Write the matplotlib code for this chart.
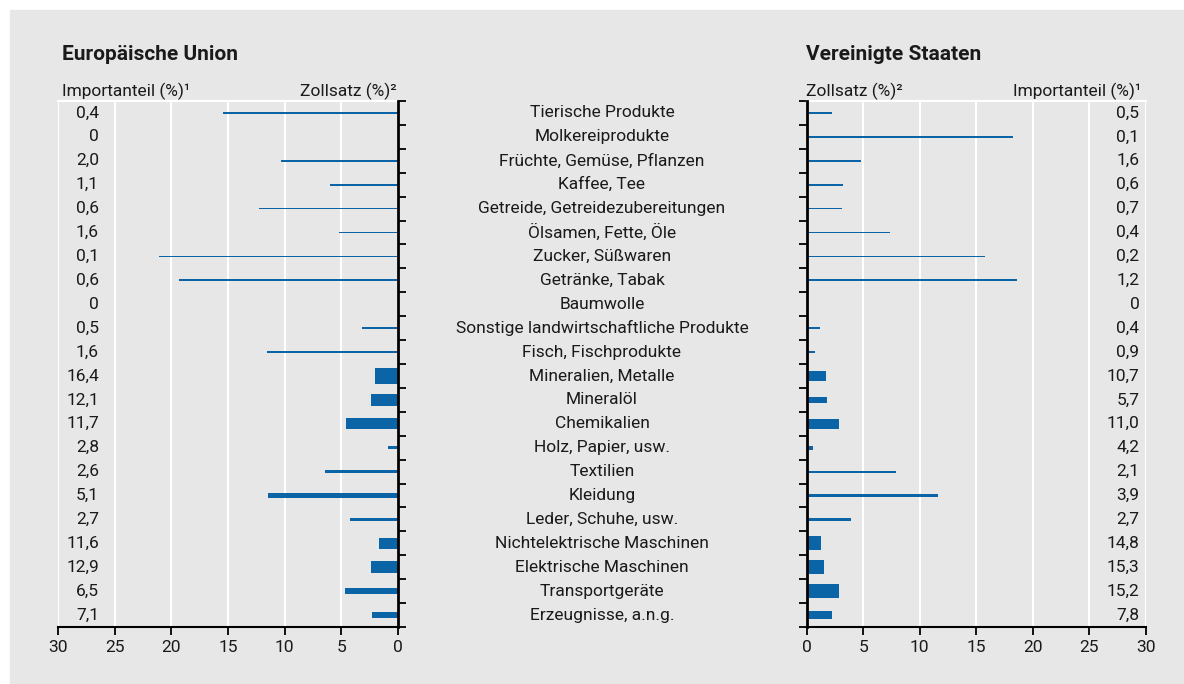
import matplotlib
matplotlib.use("Agg")
import matplotlib.pyplot as plt
import matplotlib.transforms as mtransforms
from matplotlib.patches import Rectangle
import numpy as np

categories = [
    "Tierische Produkte", "Molkereiprodukte", "Früchte, Gemüse, Pflanzen",
    "Kaffee, Tee", "Getreide, Getreidezubereitungen", "Ölsamen, Fette, Öle",
    "Zucker, Süßwaren", "Getränke, Tabak", "Baumwolle",
    "Sonstige landwirtschaftliche Produkte", "Fisch, Fischprodukte",
    "Mineralien, Metalle", "Mineralöl", "Chemikalien", "Holz, Papier, usw.",
    "Textilien", "Kleidung", "Leder, Schuhe, usw.",
    "Nichtelektrische Maschinen", "Elektrische Maschinen", "Transportgeräte",
    "Erzeugnisse, a.n.g.",
]
eu_share = [0.4, 0, 2.0, 1.1, 0.6, 1.6, 0.1, 0.6, 0, 0.5, 1.6, 16.4, 12.1,
            11.7, 2.8, 2.6, 5.1, 2.7, 11.6, 12.9, 6.5, 7.1]
eu_tariff = [15.4, 0, 10.3, 6.0, 12.3, 5.2, 21.1, 19.3, 0, 3.2, 11.6, 2.0,
             2.4, 4.6, 0.9, 6.4, 11.5, 4.2, 1.7, 2.4, 4.7, 2.3]
us_share = [0.5, 0.1, 1.6, 0.6, 0.7, 0.4, 0.2, 1.2, 0, 0.4, 0.9, 10.7, 5.7,
            11.0, 4.2, 2.1, 3.9, 2.7, 14.8, 15.3, 15.2, 7.8]
us_tariff = [2.2, 18.3, 4.8, 3.2, 3.1, 7.4, 15.8, 18.6, 0, 1.2, 0.7, 1.7,
             1.8, 2.9, 0.6, 7.9, 11.6, 3.9, 1.3, 1.5, 2.9, 2.2]
xticks = [0, 5, 10, 15, 20, 25, 30]

BLUE = "#0a64a5"
BG = "#e7e7e7"
TXT = "#1a1a1a"
FONT = "Roboto"
FS = 12.5

plt.rcParams['font.family'] = [FONT, 'DejaVu Sans']

W, H = 1184, 684
fig = plt.figure(figsize=(W / 100, H / 100), dpi=100)
fig.patch.set_facecolor("white")
fig.patches.append(Rectangle((10 / W, 0), 1 - 10 / W, 1 - 10 / H,
                             transform=fig.transFigure, color=BG, zorder=-10))


def fmt(v):
    return "0" if v == 0 else f"{v:.1f}".replace(".", ",")


def bar_h(v):
    if v <= 0:
        return 0
    return max(v * 0.039, 0.075)


n = len(categories)
ypos = np.arange(n)
bottom = 1 - 627 / H
height = 526 / H

ax1 = fig.add_axes([58 / W, bottom, 340 / W, height])
ax2 = fig.add_axes([806.7 / W, bottom, 339 / W, height])

for ax, tariff, share, side in [(ax1, eu_tariff, eu_share, "left"),
                                (ax2, us_tariff, us_share, "right")]:
    ax.set_facecolor("none")
    ax.set_ylim(n - 0.5, -0.5)
    if side == "left":
        ax.set_xlim(30, 0)
    else:
        ax.set_xlim(0, 30)
    ax.barh(ypos, tariff, height=[bar_h(s) for s in share], color=BLUE,
            linewidth=0, zorder=3)
    ax.set_xticks(xticks)
    ax.set_xticklabels([str(t) for t in xticks])
    ax.grid(axis="x", color="white", linewidth=1.5, zorder=0)
    ax.set_axisbelow(True)
    ax.set_yticks(np.arange(-0.5, n, 1.0))
    ax.set_yticklabels([])
    ax.tick_params(axis="x", direction="out", length=6, width=1.3,
                   colors="black", labelcolor=TXT, labelsize=FS, pad=3)
    ax.tick_params(axis="y", direction="out", length=6, width=1.3,
                   colors="black")
    for s in ax.spines.values():
        s.set_visible(False)
    ax.spines["bottom"].set_visible(True)
    ax.spines["bottom"].set_linewidth(1.5)
    ax.spines["top"].set_visible(True)
    ax.spines["top"].set_color("white")
    ax.spines["top"].set_linewidth(1.5)
    tr = mtransforms.blended_transform_factory(ax.transAxes, ax.transData)
    if side == "left":
        ax.yaxis.tick_right()
        ax.spines["right"].set_visible(True)
        ax.spines["right"].set_linewidth(2)
        ax.spines["right"].set_zorder(4)
        xlab = 0.1206
    else:
        ax.yaxis.tick_left()
        ax.spines["left"].set_visible(True)
        ax.spines["left"].set_linewidth(2)
        ax.spines["left"].set_zorder(4)
        xlab = 0.981
    for i, s in enumerate(share):
        ax.text(xlab, i, fmt(s), transform=tr, ha="right", va="center",
                fontsize=FS, color=TXT)

# category labels in the middle
trc = mtransforms.blended_transform_factory(fig.transFigure, ax1.transData)
for i, c in enumerate(categories):
    fig.text(602 / W, i, c, transform=trc, ha="center", va="center",
             fontsize=FS, color=TXT)

# titles and headers
fig.text(62 / W, 1 - 60.5 / H, "Europäische Union", fontsize=15,
         fontweight="bold", color=TXT, va="baseline", ha="left")
fig.text(806 / W, 1 - 60.5 / H, "Vereinigte Staaten", fontsize=15,
         fontweight="bold", color=TXT, va="baseline", ha="left")
fig.text(62 / W, 1 - 96.5 / H, "Importanteil (%)¹", fontsize=FS, color=TXT,
         va="baseline", ha="left")
fig.text(397 / W, 1 - 96.5 / H, "Zollsatz (%)²", fontsize=FS, color=TXT,
         va="baseline", ha="right")
fig.text(806 / W, 1 - 96.5 / H, "Zollsatz (%)²", fontsize=FS, color=TXT,
         va="baseline", ha="left")
fig.text(1141 / W, 1 - 96.5 / H, "Importanteil (%)¹", fontsize=FS, color=TXT,
         va="baseline", ha="right")

fig.savefig("out.png", dpi=100, facecolor=fig.get_facecolor())
